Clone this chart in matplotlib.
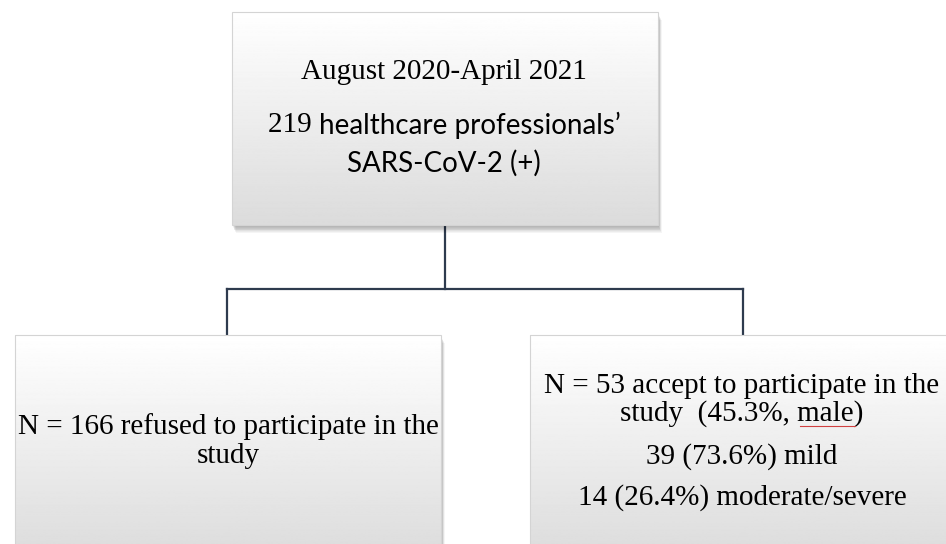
import numpy as np
import matplotlib.pyplot as plt
from matplotlib.patches import Rectangle

W, H = 946, 544

# box texts
top_lines = ["August 2020-April 2021", "219 healthcare professionals\u2019", "SARS-CoV-2 (+)"]
left_lines = ["N = 166 refused to participate in the\nstudy"]
right_lines = ["N = 53 accept to participate in the\nstudy  (45.3%, male)",
               "39 (73.6%) mild",
               "14 (26.4%) moderate/severe"]

SERIF = "Liberation Serif"
SANS = "Lato"
FS = 21

fig = plt.figure(figsize=(W / 100, H / 100), dpi=100)
ax = fig.add_axes([0, 0, 1, 1])
ax.set_xlim(0, W)
ax.set_ylim(H, 0)
ax.axis("off")

grad = np.linspace(1.0, 0.86, 256).reshape(-1, 1)


def box(x0, y0, x1, y1):
    # soft shadow
    for i in range(8):
        d = 2 + i
        ax.add_patch(Rectangle((x0 + d * 0.4, y0 + d * 0.9), x1 - x0, y1 - y0,
                               facecolor="black", edgecolor="none", alpha=0.04, zorder=1))
    ax.imshow(grad, cmap="gray", vmin=0, vmax=1, aspect="auto",
              extent=(x0, x1, y1, y0), zorder=2)
    ax.add_patch(Rectangle((x0, y0), x1 - x0, y1 - y0, facecolor="none",
                           edgecolor="#d4d4d4", lw=0.8, zorder=3))


# connectors
lc = "#2e3b4e"
ax.plot([445, 445], [225, 289], color=lc, lw=1.6, zorder=0)
ax.plot([227, 743], [289, 289], color=lc, lw=1.6, zorder=0)
ax.plot([227, 227], [289, 336], color=lc, lw=1.6, zorder=0)
ax.plot([743, 743], [289, 336], color=lc, lw=1.6, zorder=0)

box(232, 12, 658, 225)
box(15, 335, 441, 560)
box(530, 335, 960, 560)

# top box text
ax.text(444, 72, top_lines[0], family=SERIF, fontsize=FS, ha="center", va="center", zorder=5)
t1 = ax.text(444, 125, "219 ", family=SERIF, fontsize=FS, ha="right", va="center", zorder=5)
fig.canvas.draw()
r = fig.canvas.get_renderer()
bb1 = t1.get_window_extent(r)
t2 = ax.text(0, 125, top_lines[1][4:], family=SANS, fontsize=20, ha="left", va="center", zorder=5)
bb2 = t2.get_window_extent(r)
total = bb1.width + bb2.width
left = 444 - total / 2
t1.set_position((left + bb1.width, 125))
t2.set_position((left + bb1.width, 125))
ax.text(444, 163, top_lines[2], family=SANS, fontsize=20, ha="center", va="center", zorder=5)

# left box
ax.text(228, 441, left_lines[0], family=SERIF, fontsize=FS, ha="center", va="center",
        linespacing=1.15, zorder=5)

# right box
ax.text(742, 400, right_lines[0], family=SERIF, fontsize=FS, ha="center", va="center",
        linespacing=1.1, zorder=5)
ax.text(742, 457, right_lines[1], family=SERIF, fontsize=FS, ha="center", va="center", zorder=5)
ax.text(742, 498, right_lines[2], family=SERIF, fontsize=FS, ha="center", va="center", zorder=5)
# spellcheck underline under "male"
ax.plot([800, 855], [426, 426], color="#d04040", lw=0.8, zorder=5)

fig.savefig("out.png", dpi=100)
